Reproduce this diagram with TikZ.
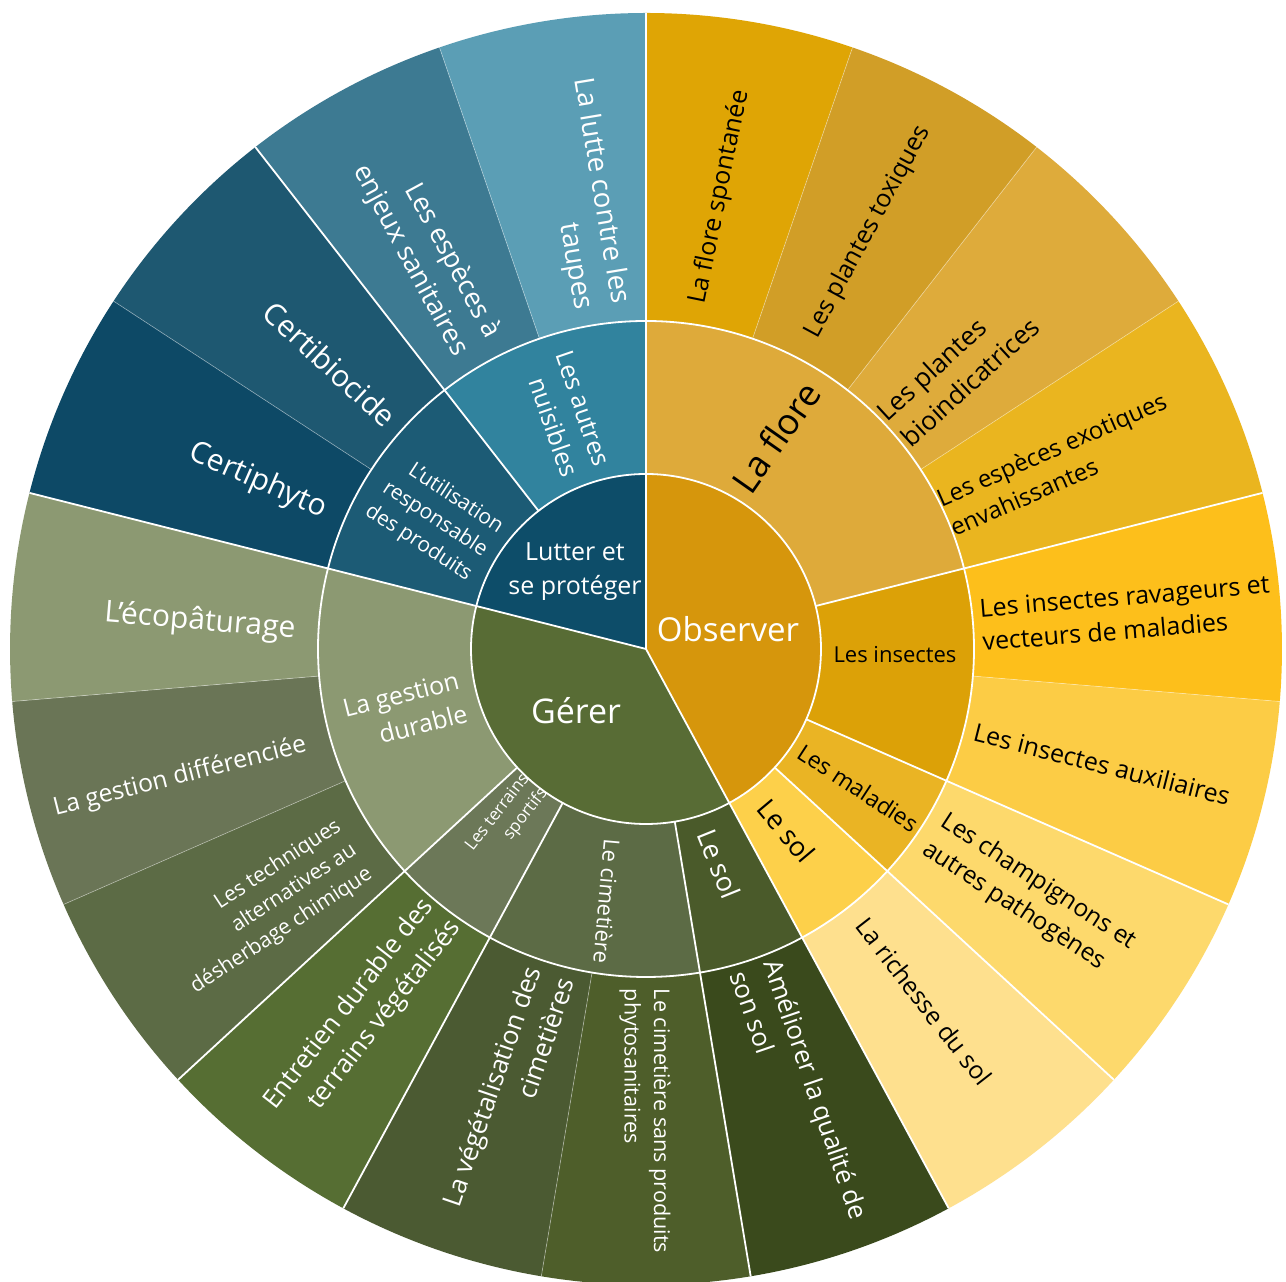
\documentclass[tikz,border=0pt]{standalone}
\usepackage{fontspec}
\setmainfont{Open Sans}
\definecolor{cObs}{HTML}{D6960C}
\definecolor{cGer}{HTML}{586C35}
\definecolor{cLut}{HTML}{0D4D69}
\definecolor{mFlore}{HTML}{DEAA3A}
\definecolor{mIns}{HTML}{DCA107}
\definecolor{mMal}{HTML}{EAB424}
\definecolor{mSolO}{HTML}{FDD04A}
\definecolor{mSolG}{HTML}{4A5A2A}
\definecolor{mCim}{HTML}{5C6B45}
\definecolor{mTer}{HTML}{6C7858}
\definecolor{mGdur}{HTML}{8C9972}
\definecolor{mUtil}{HTML}{1C5B75}
\definecolor{mAutres}{HTML}{31839E}
\definecolor{lA}{HTML}{DFA505}
\definecolor{lB}{HTML}{D19E27}
\definecolor{lC}{HTML}{DEAB3B}
\definecolor{lD}{HTML}{EAB51F}
\definecolor{lE}{HTML}{FDBF1B}
\definecolor{lF}{HTML}{FCCC45}
\definecolor{lG}{HTML}{FDD96C}
\definecolor{lH}{HTML}{FEE08E}
\definecolor{lI}{HTML}{3A4A1C}
\definecolor{lJ}{HTML}{4E5E2A}
\definecolor{lK}{HTML}{4B5A32}
\definecolor{lL}{HTML}{566E33}
\definecolor{lM}{HTML}{5C6B45}
\definecolor{lN}{HTML}{6A7556}
\definecolor{lO}{HTML}{8C9972}
\definecolor{lP}{HTML}{0D4966}
\definecolor{lQ}{HTML}{1E5871}
\definecolor{lR}{HTML}{3D7A92}
\definecolor{lS}{HTML}{5B9EB5}
\def\sbdd{18.947368}
\newcommand\sbsec[5]{\fill[#1] ({90-(#4)*\sbdd}:#2) arc[start angle={90-(#4)*\sbdd}, end angle={90-(#5)*\sbdd}, radius=#2] -- ({90-(#5)*\sbdd}:#3) arc[start angle={90-(#5)*\sbdd}, end angle={90-(#4)*\sbdd}, radius=#3] -- cycle;}
\newcommand\sbpie[3]{\fill[#1] (0,0) -- ({90-(#2)*\sbdd}:175) arc[start angle={90-(#2)*\sbdd}, end angle={90-(#3)*\sbdd}, radius=175] -- cycle;}
\begin{document}
\begin{tikzpicture}[x=1pt,y=1pt,
  sepline/.style={white, line width=1.8pt},
  fsepline/.style={white, opacity=0.4, line width=0.7pt},
  lab/.style={inner sep=0pt, text=white},
  dlab/.style={inner sep=0pt, text=black},
  fs/.style={font=\fontsize{#1}{\fpeval{1.36*#1}}\selectfont}]
\useasboundingbox (0,0) rectangle (1286,1282);
\fill[white] (0,0) rectangle (1286,1282);
\begin{scope}[shift={(646,633)}]
% inner ring
\sbpie{cObs}{0}{8}
\sbpie{cGer}{8}{15}
\sbpie{cLut}{15}{19}
% middle ring
\sbsec{mFlore}{175}{328}{0}{4}
\sbsec{mIns}{175}{328}{4}{6}
\sbsec{mMal}{175}{328}{6}{7}
\sbsec{mSolO}{175}{328}{7}{8}
\sbsec{mSolG}{175}{328}{8}{9}
\sbsec{mCim}{175}{328}{9}{11}
\sbsec{mTer}{175}{328}{11}{12}
\sbsec{mGdur}{175}{328}{12}{15}
\sbsec{mUtil}{175}{328}{15}{17}
\sbsec{mAutres}{175}{328}{17}{19}
% outer ring
\sbsec{lA}{328}{636}{0}{1}
\sbsec{lB}{328}{636}{1}{2}
\sbsec{lC}{328}{636}{2}{3}
\sbsec{lD}{328}{636}{3}{4}
\sbsec{lE}{328}{636}{4}{5}
\sbsec{lF}{328}{636}{5}{6}
\sbsec{lG}{328}{636}{6}{7}
\sbsec{lH}{328}{636}{7}{8}
\sbsec{lI}{328}{636}{8}{9}
\sbsec{lJ}{328}{636}{9}{10}
\sbsec{lK}{328}{636}{10}{11}
\sbsec{lL}{328}{636}{11}{12}
\sbsec{lM}{328}{636}{12}{13}
\sbsec{lN}{328}{636}{13}{14}
\sbsec{lO}{328}{636}{14}{15}
\sbsec{lP}{328}{636}{15}{16}
\sbsec{lQ}{328}{636}{16}{17}
\sbsec{lR}{328}{636}{17}{18}
\sbsec{lS}{328}{636}{18}{19}
% separators
\foreach \i in {1,2,3,5,10,13,14,16,18}
  \draw[fsepline] ({90-\i*\sbdd}:328) -- ({90-\i*\sbdd}:636);
\foreach \i in {4,6,7,9,11,12,17}
  \draw[sepline] ({90-\i*\sbdd}:175) -- ({90-\i*\sbdd}:636);
\foreach \i in {0,8,15}
  \draw[sepline] (0,0) -- ({90-\i*\sbdd}:636);
\draw[sepline] (0,0) circle[radius=175];
\draw[sepline] (0,0) circle[radius=328];
% inner labels
\node[lab, fs=33] (obs) at (82,20) {Observer};
\node[lab, fs=34] (ger) at (-70,-62) {Gérer};
\node[lab, fs=25, align=center] (lut) at (-71,77) {Lutter et\\se protéger};
% middle labels
\node[dlab, fs=36, rotate=55] (flore) at (130,212) {La flore};
\node[dlab, fs=22] (ins) at (249,-6) {Les insectes};
\node[dlab, fs=23, rotate=-33.16] (mal) at (212,-139) {Les maladies};
\node[dlab, fs=27, rotate=-50] (solo) at (140,-182) {Le sol};
\node[lab, fs=27, rotate=-68] (solg) at (73,-215) {Le sol};
\node[lab, fs=22, rotate=-95] (cim) at (-39,-252) {Le cimetière};
\node[lab, fs=17, rotate=52.11, align=right] (ter) at (-139,-171) {Les terrains\\sportifs};
\node[lab, fs=25, rotate=14.21, align=right] (gdur) at (-241,-62) {La gestion\\durable};
\node[lab, fs=21, rotate=-33.16, align=right] (util) at (-212,130) {L’utilisation\\responsable\\des produits};
\node[lab, fs=25, rotate=-71.05, align=right] (autres) at (-79,235) {Les autres\\nuisibles};
% leaf labels
\node[dlab, fs=25, rotate=78.5] (l1) at (74,452) {La flore spontanée};
\node[dlab, fs=25, rotate=61.58] (l2) at (222,417) {Les plantes toxiques};
\node[dlab, fs=26, rotate=42.63, align=left] (l3) at (312,280) {Les plantes\\bioindicatrices};
\node[dlab, fs=24, rotate=23.68, align=left] (l4) at (412,185) {Les espèces exotiques\\envahissantes};
\node[dlab, fs=25, rotate=4.74, align=left] (l5) at (480,36) {Les insectes ravageurs et\\vecteurs de maladies};
\node[dlab, fs=25, rotate=-14.21] (l6) at (456,-115) {Les insectes auxiliaires};
\node[dlab, fs=24.5, rotate=-33.16, align=left] (l7) at (383,-247) {Les champignons et\\autres pathogènes};
\node[dlab, fs=24.7, rotate=-52.11] (l8) at (278,-352) {La richesse du sol};
\node[lab, fs=25.8, rotate=-71.05, align=left] (l9) at (154,-446) {Améliorer la qualité de\\son sol};
\node[lab, fs=21.6, rotate=-90, align=left] (l10) at (-1,-472) {Le cimetière sans produits\\phytosanitaires};
\node[lab, fs=26, rotate=71.05, align=right] (l11) at (-138,-443) {La végétalisation des\\cimetières};
\node[lab, fs=25.8, rotate=52.11, align=right] (l12) at (-283,-366) {Entretien durable des\\terrains végétalisés};
\node[lab, fs=21, rotate=33.16, align=right] (l13) at (-380,-258) {Les techniques\\alternatives au\\désherbage chimique};
\node[lab, fs=24.7, rotate=14.21] (l14) at (-466,-128) {La gestion différenciée};
\node[lab, fs=30, rotate=-4.74] (l15) at (-446,27) {L’écopâturage};
\node[lab, fs=30, rotate=-23.68] (l16) at (-388,168) {Certiphyto};
\node[lab, fs=30, rotate=-42.63] (l17) at (-316,285) {Certibiocide};
\node[lab, fs=27, rotate=-61.58, align=right] (l18) at (-220,397) {Les espèces à\\enjeux sanitaires};
\node[lab, fs=27.6, rotate=-80.53, align=right] (l19) at (-64,455) {La lutte contre les\\taupes};
\end{scope}
\end{tikzpicture}
\end{document}
